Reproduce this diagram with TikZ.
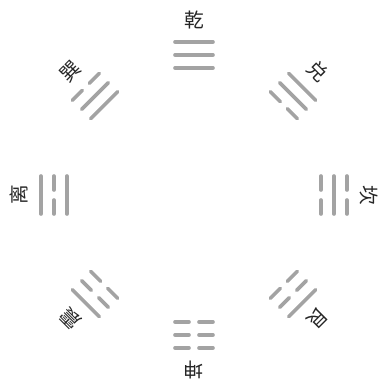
\documentclass[tikz,border=0pt]{standalone}
\usepackage{fontspec}
\newfontfamily\cjk{Noto Sans CJK SC}
\tikzset{
	hao/.style={line width=0.09cm, draw=black!36, line cap=round},
	tenque/.style={inner sep=0pt, text=black!85, font=\cjk\fontsize{14}{14}\selectfont},
}
\begin{document}
\begin{tikzpicture}[x=0.025cm, y=0.025cm]
	\useasboundingbox (-194,-189) rectangle (193,195);
	
	% --- BAT QUAI: goc / ten / hao trong / hao giua / hao ngoai ---
	\foreach \goc/\ten/\a/\b/\c in {90/乾/1/1/1, 45/兑/0/1/1, 0/坎/0/1/0, -45/艮/0/0/1,
		-90/坤/0/0/0, -135/震/0/0/1, 180/离/1/0/1, 135/巽/1/1/0}{
		\begin{scope}[rotate=\goc-90]
			% ba hao (1 = lien, 0 = dut)
			\foreach \r/\v in {127/\a, 140/\b, 153/\c}{
				\ifnum\v=1
					\draw[hao] (-19,\r) -- (19,\r);
				\else
					\draw[hao] (-19,\r) -- (-5,\r) (5,\r) -- (19,\r);
				\fi
			}
			% ten que
			\node[tenque, rotate=\goc-90] (que\goc) at (0,175) {\ten};
		\end{scope}
	}
\end{tikzpicture}
\end{document}
